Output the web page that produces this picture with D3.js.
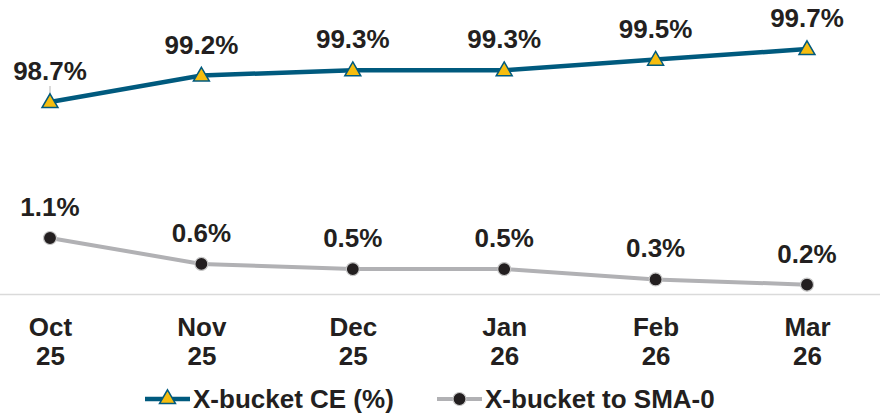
<!DOCTYPE html>
<html>
<head>
<meta charset="utf-8">
<script src="https://cdn.jsdelivr.net/npm/d3@7"></script>
<style>
  body { margin: 0; background: #fff; }
  text { font-family: "Liberation Sans", Arial, sans-serif; font-weight: bold; fill: #231f20; }
</style>
</head>
<body>
<div id="chart"></div>
<script>
// data
const months = ["Oct 25", "Nov 25", "Dec 25", "Jan 26", "Feb 26", "Mar 26"];
const ceValues = [98.7, 99.2, 99.3, 99.3, 99.5, 99.7];
const smaValues = [1.1, 0.6, 0.5, 0.5, 0.3, 0.2];
const seriesNames = ["X-bucket CE (%)", "X-bucket to SMA-0"];

const width = 880, height = 416;
const blue = "#005a7e", gold = "#f6bd0f", grey = "#b1b1b4", dot = "#231f20";

const svg = d3.select("#chart").append("svg")
    .attr("width", width)
    .attr("height", height);

const x = d3.scalePoint()
    .domain(months)
    .range([50, 807]);

// two value scales, one for each line
const yTop = d3.scaleLinear()
    .domain(d3.extent(ceValues))
    .range([102, 49]);

const yBottom = d3.scaleLinear()
    .domain([0, d3.max(smaValues)])
    .range([295, 238]);

// baseline
svg.append("line")
    .attr("x1", 0)
    .attr("x2", width)
    .attr("y1", 294.5)
    .attr("y2", 294.5)
    .attr("stroke", "#dadada")
    .attr("stroke-width", 1.5);

// x axis labels, two lines each
const xAxis = svg.append("g")
    .attr("transform", "translate(0,295)")
    .call(d3.axisBottom(x).tickSize(0).tickPadding(0));
xAxis.select(".domain").remove();
xAxis.selectAll(".tick text").each(function (d) {
    const t = d3.select(this).text(null)
        .attr("font-size", 26)
        .attr("dy", null)
        .attr("y", 0);
    const parts = d.split(" ");
    t.append("tspan").attr("x", 0).attr("y", 41).text(parts[0]);
    t.append("tspan").attr("x", 0).attr("y", 70).text(parts[1]);
});
xAxis.selectAll(".tick text")
    .style("font-family", "'Liberation Sans', Arial, sans-serif")
    .style("font-weight", "bold")
    .attr("fill", "#231f20");

// top line
const lineTop = d3.line()
    .x((d, i) => x(months[i]))
    .y(d => yTop(d));

svg.append("path")
    .datum(ceValues)
    .attr("d", lineTop)
    .attr("fill", "none")
    .attr("stroke", blue)
    .attr("stroke-width", 4.5);

// bottom line
const lineBottom = d3.line()
    .x((d, i) => x(months[i]))
    .y(d => yBottom(d));

svg.append("path")
    .datum(smaValues)
    .attr("d", lineBottom)
    .attr("fill", "none")
    .attr("stroke", grey)
    .attr("stroke-width", 4);

// leader line on first label
svg.append("line")
    .attr("x1", x(months[0]))
    .attr("x2", x(months[0]))
    .attr("y1", yTop(ceValues[0]) - 16)
    .attr("y2", yTop(ceValues[0]) - 5)
    .attr("stroke", "#b5b5b5")
    .attr("stroke-width", 1);

const tri = d3.symbol().type(d3.symbolTriangle).size(110);

svg.selectAll(".tri")
    .data(ceValues)
    .join("path")
    .attr("class", "tri")
    .attr("d", tri)
    .attr("transform", (d, i) => `translate(${x(months[i])},${yTop(d) + 1})`)
    .attr("fill", gold)
    .attr("stroke", blue)
    .attr("stroke-width", 1.5);

svg.selectAll(".dot")
    .data(smaValues)
    .join("circle")
    .attr("class", "dot")
    .attr("cx", (d, i) => x(months[i]))
    .attr("cy", d => yBottom(d))
    .attr("r", 6.5)
    .attr("fill", dot)
    .attr("stroke", "#c8c8c8")
    .attr("stroke-width", 1.2);

// data labels
svg.selectAll(".lblTop")
    .data(ceValues)
    .join("text")
    .attr("class", "lblTop")
    .attr("x", (d, i) => x(months[i]))
    .attr("y", d => yTop(d) - 22)
    .attr("text-anchor", "middle")
    .attr("font-size", 26)
    .text(d => d.toFixed(1) + "%");

svg.selectAll(".lblBottom")
    .data(smaValues)
    .join("text")
    .attr("class", "lblBottom")
    .attr("x", (d, i) => x(months[i]))
    .attr("y", d => yBottom(d) - 22)
    .attr("text-anchor", "middle")
    .attr("font-size", 26)
    .text(d => d.toFixed(1) + "%");

// legend
const legend = svg.append("g").attr("transform", "translate(0,399)");

const lg1 = legend.append("g").attr("transform", "translate(145,0)");
lg1.append("line").attr("x1", 0).attr("x2", 45)
    .attr("stroke", blue).attr("stroke-width", 4.5);
lg1.append("path").attr("d", tri)
    .attr("transform", "translate(22.5,0)")
    .attr("fill", gold).attr("stroke", blue).attr("stroke-width", 1.5);
lg1.append("text").attr("x", 48).attr("y", 9)
    .attr("font-size", 26).text(seriesNames[0]);

const lg2 = legend.append("g").attr("transform", "translate(437,0)");
lg2.append("line").attr("x1", 0).attr("x2", 45)
    .attr("stroke", grey).attr("stroke-width", 4);
lg2.append("circle").attr("cx", 22.5).attr("cy", 0).attr("r", 6.5)
    .attr("fill", dot).attr("stroke", "#c8c8c8").attr("stroke-width", 1.2);
lg2.append("text").attr("x", 48).attr("y", 9)
    .attr("font-size", 26).text(seriesNames[1]);
</script>
</body>
</html>
